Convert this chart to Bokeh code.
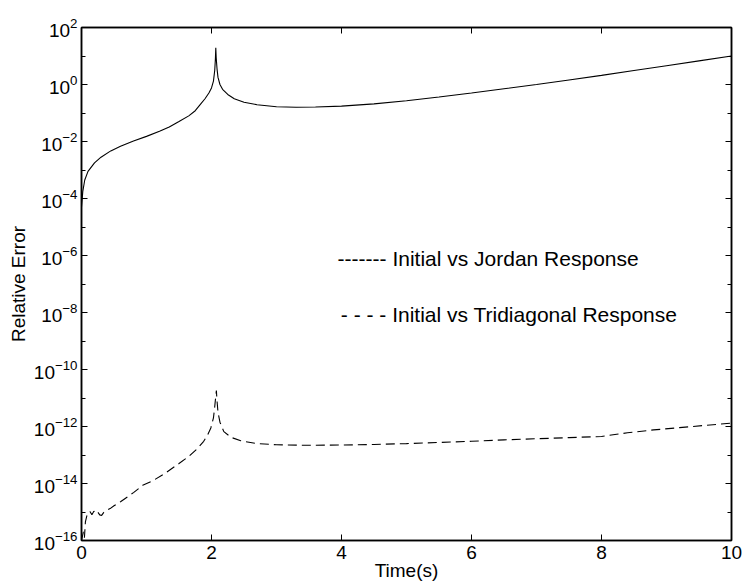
from bokeh.plotting import figure
from bokeh.models import (Range1d, FixedTicker, LinearAxis, LogAxis, Label,
                          CustomJSTickFormatter)
from bokeh.embed import file_html
from bokeh.resources import INLINE

# ---- data (log10 of relative error) ----
jordan_t = [0, 0.02, 0.05, 0.1, 0.2, 0.3, 0.45, 0.6, 0.8, 1.0, 1.2, 1.35, 1.5,
            1.65, 1.75, 1.835, 1.9, 1.96, 2.0, 2.03, 2.05, 2.06, 2.066, 2.072,
            2.085, 2.1, 2.13, 2.17, 2.25, 2.35, 2.5, 2.7, 3.0, 3.3, 3.6, 4.0,
            4.5, 5.0, 5.5, 6.0, 6.5, 7.0, 7.5, 8.0, 8.5, 9.0, 9.5, 10.0]
jordan_log = [-4.3, -3.75, -3.35, -3.05, -2.75, -2.55, -2.33, -2.17, -1.98,
              -1.82, -1.64, -1.49, -1.3, -1.1, -0.92, -0.68, -0.5, -0.3, -0.12,
              0.12, 0.5, 0.9, 1.29, 0.95, 0.55, 0.25, 0.0, -0.17, -0.35, -0.5,
              -0.62, -0.71, -0.78, -0.8, -0.79, -0.76, -0.68, -0.57, -0.44,
              -0.3, -0.15, 0.0, 0.16, 0.32, 0.49, 0.66, 0.83, 1.0]

tri_t = [0, 0.015, 0.03, 0.045, 0.06, 0.08, 0.1, 0.13, 0.16, 0.19, 0.22, 0.25,
         0.28, 0.31, 0.34, 0.38, 0.44, 0.5, 0.6, 0.7, 0.8, 0.95, 1.1, 1.3, 1.5,
         1.65, 1.78, 1.88, 1.94, 1.99, 2.03, 2.05, 2.065, 2.075, 2.085, 2.1,
         2.13, 2.19, 2.3, 2.45, 2.7, 3.0, 3.5, 4.0, 4.5, 5.0, 5.5, 6.0, 6.5,
         7.0, 7.5, 8.0, 8.4, 8.8, 9.2, 9.6, 10.0]
tri_log = [-16.0, -15.85, -15.7, -15.9, -15.35, -15.15, -15.05, -14.98, -15.1,
           -14.97, -15.05, -15.0, -15.1, -15.12, -15.02, -14.95, -14.88,
           -14.78, -14.64, -14.48, -14.32, -14.05, -13.9, -13.62, -13.3,
           -13.05, -12.78, -12.52, -12.3, -12.05, -11.7, -11.3, -10.95,
           -10.74, -11.1, -11.5, -11.85, -12.18, -12.38, -12.5, -12.6, -12.64,
           -12.66, -12.65, -12.63, -12.6, -12.56, -12.52, -12.47, -12.43,
           -12.39, -12.35, -12.22, -12.12, -12.04, -11.96, -11.88]

x_ticks = [0, 2, 4, 6, 8, 10]
y_major_exp = [-16, -14, -12, -10, -8, -6, -4, -2, 0, 2]
y_minor_exp = [-15, -13, -11, -9, -7, -5, -3, -1, 1]

legend_texts = ["------- Initial vs Jordan Response",
                "- - - - Initial vs Tridiagonal Response"]
x_label = "Time(s)"
y_label = "Relative Error"

jordan_y = [10.0 ** v for v in jordan_log]
tri_y = [10.0 ** v for v in tri_log]
y_major = [10.0 ** e for e in y_major_exp]
y_minor = [10.0 ** e for e in y_minor_exp]

FONT = "Liberation Sans"

p = figure(width=742, height=587, output_backend="svg", toolbar_location=None,
           y_axis_type="log",
           x_range=Range1d(0, 10), y_range=Range1d(1e-16, 1e2),
           min_border_left=81, min_border_right=11, min_border_top=27,
           min_border_bottom=47)
p.background_fill_color = "white"
p.border_fill_color = "white"
p.xgrid.visible = False
p.ygrid.visible = False
p.outline_line_color = "black"
p.outline_line_width = 1.5

p.line(jordan_t, jordan_y, line_color="black", line_width=1.1)
p.line(tri_t, tri_y, line_color="black", line_width=1.1, line_dash="9 5")

def style(ax):
    ax.axis_line_color = "black"
    ax.axis_line_width = 1.5
    ax.major_tick_in = 6
    ax.major_tick_out = 0
    ax.minor_tick_in = 4
    ax.minor_tick_out = 0
    ax.major_tick_line_color = "black"
    ax.minor_tick_line_color = "black"
    ax.major_label_text_font = FONT
    ax.major_label_text_font_size = "19px"
    ax.major_label_text_color = "black"

xt = FixedTicker(ticks=x_ticks, minor_ticks=[])
yt = FixedTicker(ticks=y_major, minor_ticks=y_minor)

xa = p.xaxis[0]
xa.ticker = xt
style(xa)
xa.major_label_standoff = 5
xa.axis_label = x_label
xa.axis_label_text_font = FONT
xa.axis_label_text_font_size = "19px"
xa.axis_label_text_font_style = "normal"
xa.axis_label_text_color = "black"
xa.axis_label_standoff = -2

ya = p.yaxis[0]
ya.ticker = yt
style(ya)
ya.major_label_standoff = 4
ya.axis_label = y_label
ya.axis_label_text_font = FONT
ya.axis_label_text_font_size = "19px"
ya.axis_label_text_font_style = "normal"
ya.axis_label_text_color = "black"
ya.axis_label_standoff = 2

empty = "return ''"
top = LinearAxis(ticker=FixedTicker(ticks=x_ticks, minor_ticks=[]),
                 formatter=CustomJSTickFormatter(code=empty))
style(top)
top.major_label_standoff = 0
p.add_layout(top, "above")

right = LogAxis(ticker=FixedTicker(ticks=y_major, minor_ticks=y_minor),
                formatter=CustomJSTickFormatter(code=empty))
style(right)
right.major_label_standoff = 0
p.add_layout(right, "right")

p.add_layout(Label(x=3.94, y=10 ** -6.1, text=legend_texts[0],
                   text_font=FONT, text_font_size="21px",
                   text_baseline="middle", text_color="black"))
p.add_layout(Label(x=3.99, y=10 ** -8.07, text=legend_texts[1],
                   text_font=FONT, text_font_size="21px",
                   text_baseline="middle", text_color="black"))

open("out.html", "w").write(file_html(p, INLINE))
